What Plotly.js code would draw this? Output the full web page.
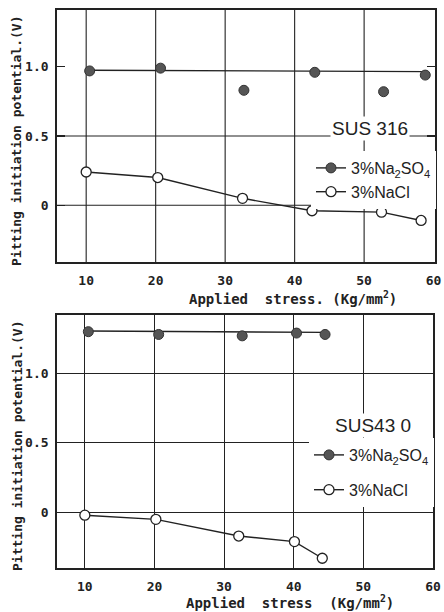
<!DOCTYPE html>
<html>
<head>
<meta charset="utf-8">
<script src="https://cdn.plot.ly/plotly-3.0.1.min.js"></script>
<style>html,body{margin:0;padding:0;background:#fff}</style>
</head>
<body>
<div id="chart" style="width:444px;height:612px"></div>
<script>
// ---- data ----
// SUS 316
var stress316Na2SO4 = [10.5, 20.7, 32.7, 42.9, 52.8, 58.8];
var pot316Na2SO4    = [0.97, 0.99, 0.83, 0.96, 0.82, 0.94];
var fit316X = [10.5, 58.8];
var fit316Y = [0.975, 0.965];
var stress316NaCl = [10.0, 20.3, 32.5, 42.5, 52.5, 58.2];
var pot316NaCl    = [0.24, 0.20, 0.05, -0.04, -0.05, -0.11];
// SUS 430
var stress430Na2SO4 = [10.5, 20.6, 32.6, 40.4, 44.5];
var pot430Na2SO4    = [1.30, 1.28, 1.27, 1.29, 1.28];
var fit430X = [10.5, 44.5];
var fit430Y = [1.305, 1.295];
var stress430NaCl = [10.0, 20.2, 32.1, 40.1, 44.1];
var pot430NaCl    = [-0.02, -0.05, -0.17, -0.21, -0.33];
// ticks
var xTickVals = [10, 20, 30, 40, 50, 60];
var xTickText = ['10', '20', '30', '40', '50', '60'];
var yTickVals = [0, 0.5, 1.0];
var yTickText = ['0', '0.5', '1.0'];
var xGrid316 = [10, 20, 30, 40, 50];
var yGrid316 = [0, 0.5];
// labels
var nameNa2SO4 = '3%Na<sub>2</sub>SO<sub>4</sub>';
var nameNaCl = '3%NaCl';

var INK = '#222';
var FILL = '#555';
var tickFont = {family: 'DejaVu Sans Mono', size: 13, color: INK, weight: 'bold'};
var legFont = {family: 'Liberation Sans', size: 16, color: INK};

function filled(sz){ return {symbol:'circle', size: sz, color: FILL, line:{color:'#333', width:1}}; }
function open(sz){ return {symbol:'circle', size: sz, color:'#fff', line:{color:INK, width:1.3}}; }

var traces = [
  // top panel
  {x: fit316X, y: fit316Y, xaxis:'x', yaxis:'y', mode:'lines', line:{color:INK, width:1.4}, showlegend:false, hoverinfo:'skip'},
  {x: stress316Na2SO4, y: pot316Na2SO4, xaxis:'x', yaxis:'y', mode:'markers', marker: filled(10), showlegend:false},
  {x: [null], y: [null], xaxis:'x', yaxis:'y', mode:'lines+markers', name: nameNa2SO4, legend:'legend', marker: filled(10), line:{color:INK, width:1.4}},
  {x: stress316NaCl, y: pot316NaCl, xaxis:'x', yaxis:'y', mode:'lines+markers', name: nameNaCl, legend:'legend', marker: open(10), line:{color:INK, width:1.4}},
  // bottom panel
  {x: fit430X, y: fit430Y, xaxis:'x2', yaxis:'y2', mode:'lines', line:{color:INK, width:1.4}, showlegend:false, hoverinfo:'skip'},
  {x: stress430Na2SO4, y: pot430Na2SO4, xaxis:'x2', yaxis:'y2', mode:'markers', marker: filled(10), showlegend:false},
  {x: [null], y: [null], xaxis:'x2', yaxis:'y2', mode:'lines+markers', name: nameNa2SO4, legend:'legend2', legendgroup:'a', marker: filled(10), line:{color:INK, width:1.4}},
  {x: stress430NaCl, y: pot430NaCl, xaxis:'x2', yaxis:'y2', mode:'lines+markers', name: nameNaCl, legend:'legend2', legendgroup:'b', marker: open(10), line:{color:INK, width:1.4}}
];

function xax(domain, range, anchor, grid){
  return {domain: domain, range: range, anchor: anchor, tickvals: xTickVals, ticktext: xTickText,
    showgrid: grid, gridcolor: INK, gridwidth: 1.1, zeroline: false,
    showline: true, linecolor: INK, linewidth: 1.8, mirror: true,
    ticks: '', ticklabelstandoff: 6, tickfont: tickFont, fixedrange: true};
}
function yax(domain, range, anchor, grid){
  return {domain: domain, range: range, anchor: anchor, tickvals: yTickVals, ticktext: yTickText,
    showgrid: grid, gridcolor: INK, gridwidth: 1.1, zeroline: false,
    showline: true, linecolor: INK, linewidth: 1.8, mirror: grid ? true : 'ticks',
    ticks: grid ? '' : 'inside', ticklen: 8, tickcolor: INK, tickwidth: 1.2,
    ticklabelstandoff: 4, tickfont: tickFont, fixedrange: true};
}

// grid lines of the top panel (no horizontal line at 1.0 there, only ticks)
var gridShapes = yGrid316.map(function(v){
  return {type:'line', layer:'below', xref:'x domain', yref:'y', x0:0, x1:1, y0:v, y1:v,
    line:{color:INK, width:1.1}};
}).concat(xGrid316.map(function(v){
  return {type:'line', layer:'below', xref:'x', yref:'y domain', x0:v, x1:v, y0:0, y1:1,
    line:{color:INK, width:1.1}};
}));

var layout = {
  width: 444, height: 612, autosize: false,
  margin: {l:0, r:0, t:0, b:0},
  paper_bgcolor: '#fff', plot_bgcolor: '#fff',
  xaxis: xax([57/444, 435/444], [5.8, 60.2], 'y', false),
  yaxis: yax([1-262/612, 1-10/612], [-0.41, 1.41], 'x', false),
  xaxis2: xax([57/444, 433/444], [6.0, 60.0], 'y2', true),
  yaxis2: yax([1-568/612, 1-315/612], [-0.40, 1.42], 'x2', true),
  shapes: gridShapes,
  showlegend: true,
  legend: {x: 311/444, y: 1-151/612, xanchor: 'left', yanchor: 'top', bgcolor: '#fff', borderwidth: 0,
    font: legFont, itemwidth: 30, traceorder: 'normal', tracegroupgap: 0},
  legend2: {x: 309/444, y: 1-438/612, xanchor: 'left', yanchor: 'top', bgcolor: '#fff', borderwidth: 0,
    font: legFont, itemwidth: 30, traceorder: 'grouped', tracegroupgap: 11},
  annotations: [
    {text: 'SUS 316', xref: 'paper', yref: 'paper', x: 370/444, y: 1-128/612, xanchor: 'center', yanchor: 'middle',
      showarrow: false, bgcolor: '#fff', font: {family: 'Liberation Sans', size: 19, color: INK}},
    {text: 'SUS43 0', xref: 'paper', yref: 'paper', x: 373/444, y: 1-425/612, xanchor: 'center', yanchor: 'middle',
      showarrow: false, bgcolor: '#fff', font: {family: 'Liberation Sans', size: 19, color: INK}},
    {text: 'Pitting initiation potential.(V)', xref: 'paper', yref: 'paper', x: 17/444, y: 1-141/612,
      xanchor: 'center', yanchor: 'middle', textangle: -90, showarrow: false, font: tickFont},
    {text: 'Pitting initiation potential.(V)', xref: 'paper', yref: 'paper', x: 17/444, y: 1-446/612,
      xanchor: 'center', yanchor: 'middle', textangle: -90, showarrow: false, font: tickFont},
    {text: 'Applied  stress. (Kg/mm<sup>2</sup>)', xref: 'paper', yref: 'paper', x: 293/444, y: 1-298/612,
      xanchor: 'center', yanchor: 'middle', showarrow: false, font: {family: 'DejaVu Sans Mono', size: 14, color: INK, weight: 'bold'}},
    {text: 'Applied  stress  (Kg/mm<sup>2</sup>)', xref: 'paper', yref: 'paper', x: 290/444, y: 1-602/612,
      xanchor: 'center', yanchor: 'middle', showarrow: false, font: {family: 'DejaVu Sans Mono', size: 14, color: INK, weight: 'bold'}}
  ]
};

Plotly.newPlot('chart', traces, layout, {displayModeBar: false, staticPlot: true});
</script>
</body>
</html>
